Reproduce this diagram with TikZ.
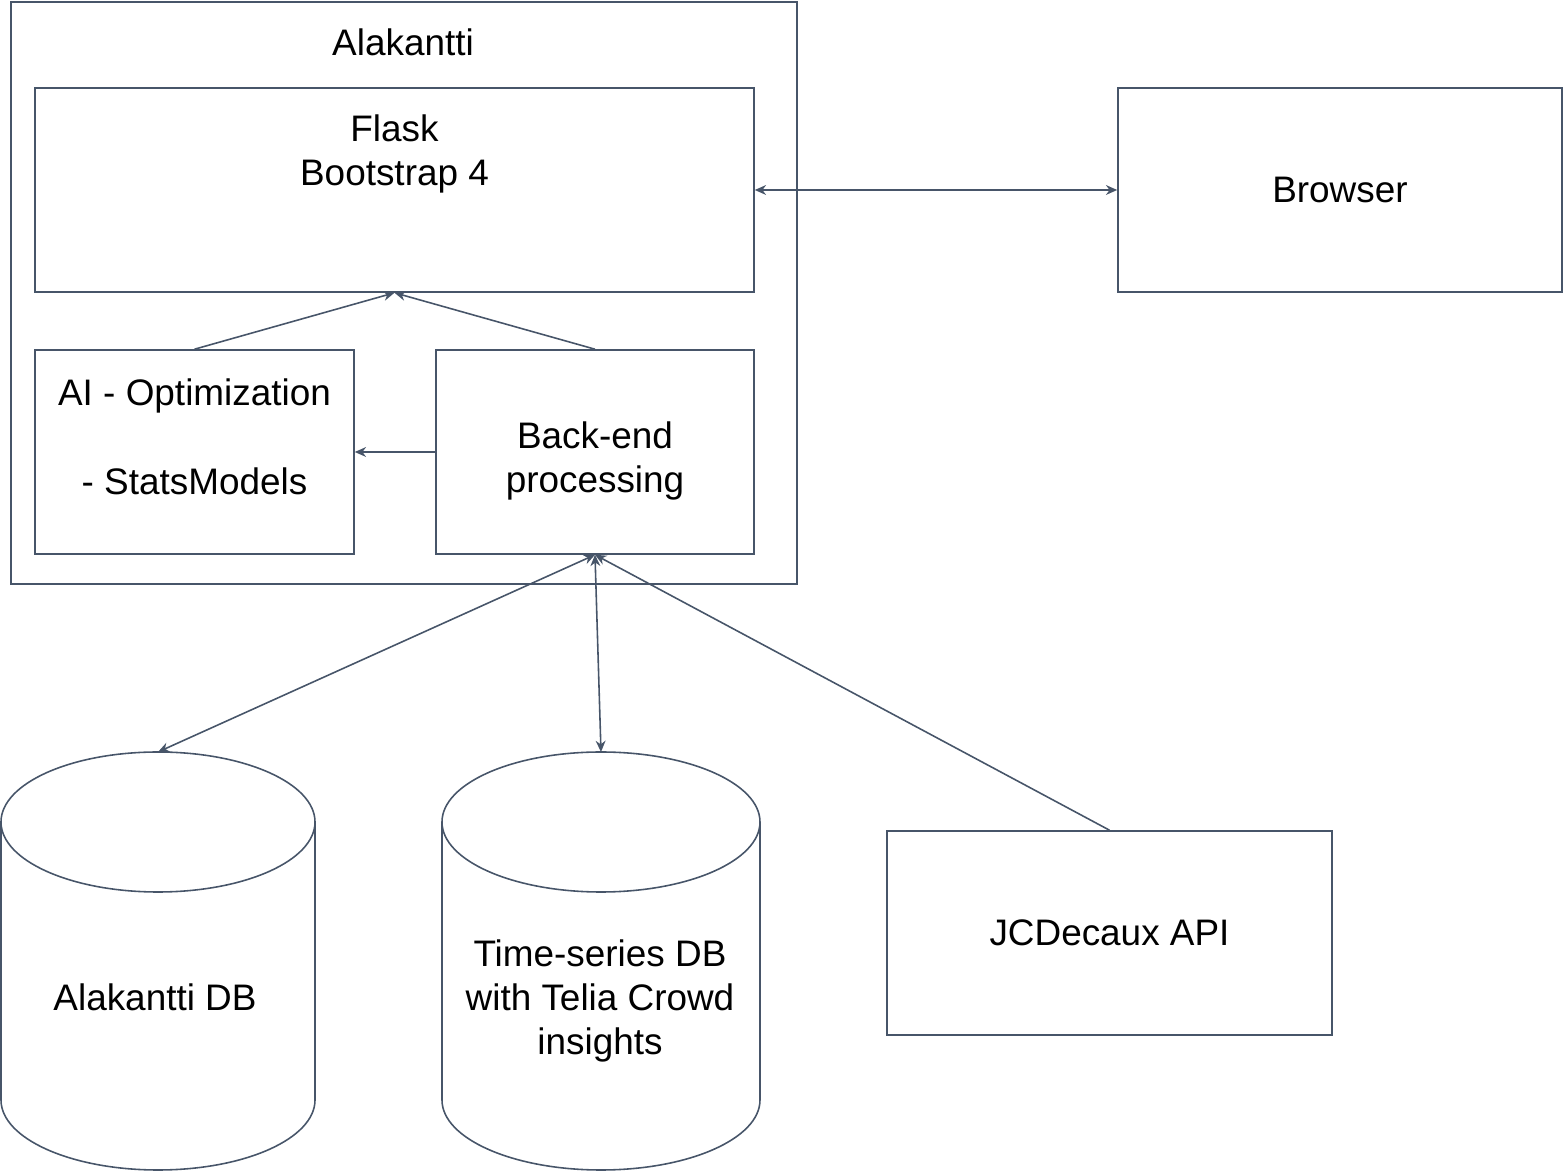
\documentclass[tikz,border=0pt]{standalone}
\usepackage{fontspec}
\setmainfont{Liberation Sans}
\usetikzlibrary{arrows.meta,positioning}
\definecolor{slate}{RGB}{71,85,105}

\begin{document}
\begin{tikzpicture}[
    every node/.style={font=\fontsize{10.5pt}{12.6pt}\selectfont},
    box/.style={draw=slate, line width=0.45pt, minimum width=#1, minimum height=2.04cm, inner sep=0pt, align=center},
    txt/.style={inner sep=0pt, align=center},
    conn/.style={draw=slate, line width=0.45pt, arrows={-Stealth[length=3.2pt,width=2.8pt]}},
    both/.style={conn, arrows={Stealth[length=3.2pt,width=2.8pt]-Stealth[length=3.2pt,width=2.8pt]}},
    dbline/.style={draw=slate, line width=0.45pt}
]
\useasboundingbox (0,0) rectangle (15.63,11.71);

% Drawing box Alakantti
\node [draw=slate, line width=0.45pt, minimum width=7.86cm, minimum height=5.82cm, inner sep=0pt] (alakantti) at (4.04,8.78) {};
\node [txt] (alakanttilbl) at (4.03,11.29) {Alakantti};

% Drawing box Flask
\node [box=7.19cm] (flask) at (3.945,9.81) {};
\node [txt, anchor=north] (flasklbl) at (3.945,10.57) {Flask\\Bootstrap 4};

% Drawing box Browser
\node [box=4.44cm] (browser) at (13.40,9.81) {Browser};

% Drawing box AI
\node [box=3.19cm] (ai) at (1.945,7.19) {};
\node [txt, anchor=north] (ailbl) at (1.945,7.93) {AI - Optimization\\\mbox{}\\- StatsModels};

% Drawing box Back-end
\node [box=3.18cm] (backend) at (5.95,7.19) {};
\node [txt] (backendlbl) at (5.95,7.10) {Back-end\\processing};

% Drawing box JCDecaux
\node [box=4.45cm] (jcd) at (11.095,2.38) {JCDecaux API};

% Drawing cylinder Alakantti DB
\draw [dbline] (1.58,3.49) ellipse [x radius=1.57, y radius=0.70];
\draw [dbline] (0.01,3.49) -- (0.01,0.71) arc [start angle=180, end angle=360, x radius=1.57, y radius=0.70] -- (3.15,3.49);
\coordinate (adbtop) at (1.58,4.19);
\node [txt] (adb) at (1.55,1.74) {Alakantti DB};

% Drawing cylinder Time-series DB
\draw [dbline] (6.01,3.49) ellipse [x radius=1.59, y radius=0.70];
\draw [dbline] (4.42,3.49) -- (4.42,0.71) arc [start angle=180, end angle=360, x radius=1.59, y radius=0.70] -- (7.60,3.49);
\coordinate (tsdbtop) at (6.01,4.19);
\node [txt] (tsdb) at (6.00,1.70) {Time-series DB\\with Telia Crowd\\insights};

% Drawing connectors
\draw [both] (flask.east) -- (browser.west);
\draw [conn] (ai.north) -- (flask.south);
\draw [conn] (backend.north) -- (flask.south);
\draw [conn] (backend.west) -- (ai.east);
\draw [both] (backend.south) -- (adbtop);
\draw [both] (backend.south) -- (tsdbtop);
\draw [conn] (jcd.north) -- (backend.south);
\end{tikzpicture}
\end{document}
